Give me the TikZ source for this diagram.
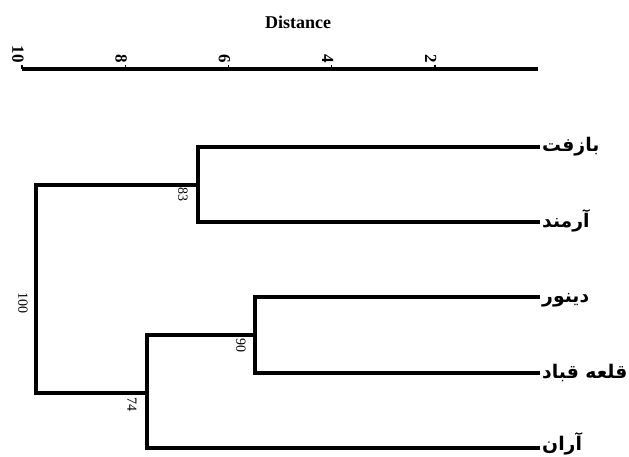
\documentclass[tikz,border=0pt]{standalone}
\usepackage{fontspec}
\setmainfont{Liberation Serif}
\newfontfamily\fa[Script=Arabic]{DejaVu Sans}
\TeXXeTstate=1
\begin{document}
\begin{tikzpicture}[x=1pt, y=-1pt,
  branch/.style={line width=3.4pt, line join=miter, line cap=rect},
  axisline/.style={line width=3.6pt},
  tickmark/.style={line width=1.4pt},
  leaf/.style={anchor=base west, inner sep=0pt, font=\fa\bfseries\fontsize{18.8}{22}\selectfont},
  boot/.style={rotate=-90, inner sep=0pt, font=\fontsize{14}{16}\selectfont},
  ticklabel/.style={rotate=-90, anchor=east, inner sep=0pt, font=\bfseries\fontsize{17}{19}\selectfont},
  title/.style={inner sep=0pt, font=\bfseries\fontsize{18}{20}\selectfont}]
\useasboundingbox (0,0) rectangle (629,457);

% distance scale: 0 at the right end, 51.6 units per step of 1
\node[title] (dist) at (298,22) {Distance};
\coordinate (ax0) at (538,69);
\coordinate (ax10) at (22,69);
\draw[axisline] (ax10) -- (ax0);
\foreach \d in {2,4,6,8,10} {
  \coordinate (t\d) at (538-51.6*\d,69);
  \draw[tickmark] (t\d) -- ++(0,-4);
  \node[ticklabel] (tl\d) at ([shift={(-4,-6)}]t\d) {\d};
}

% leaves (text baseline a little below each branch)
\node[leaf] (l1) at (542,152) {\beginR بازفت\endR};
\node[leaf] (l2) at (542,227) {\beginR آرمند\endR};
\node[leaf] (l3) at (542,302) {\beginR دینور\endR};
\node[leaf] (l4) at (542,378) {\beginR قلعه قباد\endR};
\node[leaf] (l5) at (542,450) {\beginR آران\endR};

% branch tips
\coordinate (e1) at (538,147);
\coordinate (e2) at (538,222);
\coordinate (e3) at (538,297);
\coordinate (e4) at (538,373);
\coordinate (e5) at (538,448);

% internal nodes
\coordinate (n83) at (198,185);
\coordinate (n90) at (255,335);
\coordinate (n74) at (147,393);
\coordinate (root) at (36,289);

% branches
\draw[branch] (e1) -| (n83) |- (e2);
\draw[branch] (e3) -| (n90) |- (e4);
\draw[branch] (n90) -| (n74) |- (e5);
\draw[branch] (n83) -| (root) |- (n74);

% bootstrap support
\node[boot] (b83) at ([shift={(-15,10)}]n83) {83};
\node[boot] (b90) at ([shift={(-14,10)}]n90) {90};
\node[boot] (b74) at ([shift={(-15,11)}]n74) {74};
\node[boot] (b100) at ([shift={(-13,14)}]root) {100};
\end{tikzpicture}
\end{document}
